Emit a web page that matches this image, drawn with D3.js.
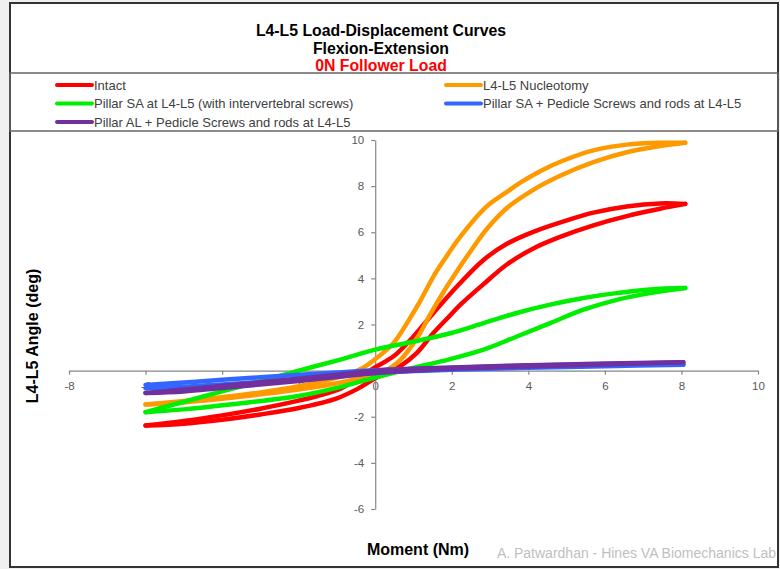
<!DOCTYPE html>
<html>
<head>
<meta charset="utf-8">
<script src="https://cdn.jsdelivr.net/npm/d3@7"></script>
<style>
  html, body { margin: 0; padding: 0; background: #f0f0f0; }
  svg { display: block; }
  text { font-family: "Liberation Sans", Arial, sans-serif; }
</style>
</head>
<body>
<svg id="chart" width="780" height="569"></svg>
<script>
// ---------- DATA ----------
const titleLines = ["L4-L5 Load-Displacement Curves", "Flexion-Extension"];
const subtitle = "0N Follower Load";
const xTitle = "Moment (Nm)";
const yTitle = "L4-L5 Angle (deg)";
const credit = "A. Patwardhan - Hines VA Biomechanics Lab";

const momentTicks = [-8, -6, -4, -2, 0, 2, 4, 6, 8, 10];
const angleTicks = [-6, -4, -2, 0, 2, 4, 6, 8, 10];

const seriesNames = [
  "Intact",
  "L4-L5 Nucleotomy",
  "Pillar SA at L4-L5 (with intervertebral screws)",
  "Pillar SA + Pedicle Screws and rods at L4-L5",
  "Pillar AL + Pedicle Screws and rods at L4-L5"
];
const seriesColors = ["#ff0000", "#ff9900", "#00ee00", "#3366ff", "#7030a0"];

// [moment (Nm), angle (deg)] — loading branch (-6 -> 8) and unloading branch (8 -> -6)
const intactLoading = [[-6,-2.38],[-5,-2.3],[-4,-2.13],[-3,-1.9],[-2,-1.62],[-1,-1.2],[-0.45,-0.78],[0,-0.33],[0.65,0.19],[1.09,0.77],[1.52,1.63],[1.96,2.4],[2.22,2.85],[2.83,3.75],[3.44,4.6],[4.13,5.3],[4.83,5.8],[5.7,6.3],[6.57,6.7],[7.44,7.02],[8.1,7.23]];
const intactUnloading = [[8.1,7.23],[7.44,7.25],[6.57,7.12],[5.7,6.85],[5.09,6.56],[4.13,6.02],[3.44,5.5],[2.83,4.8],[2.22,3.8],[1.52,2.5],[1.0,1.48],[0.48,0.62],[0,0.15],[-0.4,-0.28],[-0.91,-0.78],[-1.5,-1.1],[-2,-1.3],[-3,-1.65],[-4,-1.94],[-5,-2.18],[-6,-2.38]];

const nucleotomyLoading = [[-6,-1.47],[-5,-1.38],[-4,-1.22],[-3,-1.03],[-2,-0.82],[-1,-0.55],[-0.4,-0.32],[0.22,-0.05],[0.65,0.45],[1.09,1.4],[1.44,2.45],[1.78,3.4],[2.13,4.3],[2.5,5.2],[2.92,6.15],[3.44,7.05],[4.13,7.84],[4.83,8.45],[5.7,9.04],[6.57,9.47],[7.44,9.74],[8.1,9.88]];
const nucleotomyUnloading = [[8.1,9.88],[7.44,9.88],[6.57,9.8],[5.7,9.55],[4.9,9.1],[4.31,8.65],[3.79,8.15],[3.44,7.75],[2.9,7.1],[2.22,5.8],[1.78,4.75],[1.52,4.08],[1.17,3.0],[0.83,2.06],[0.48,1.2],[0,0.5],[-0.39,0.06],[-1,-0.3],[-2,-0.68],[-3,-0.95],[-4,-1.15],[-5,-1.32],[-6,-1.47]];

const pillarSALoading = [[-6,-1.8],[-5,-1.68],[-3.8,-1.47],[-2,-1.1],[-1,-0.75],[0,-0.3],[0.83,0.05],[1.96,0.5],[2.83,0.91],[3.7,1.48],[4.57,2.06],[5.44,2.64],[6.31,3.07],[7.18,3.36],[8.1,3.58]];
const pillarSAUnloading = [[8.1,3.58],[7.18,3.52],[6.31,3.36],[5.44,3.15],[4.57,2.86],[3.7,2.5],[2.83,2.06],[1.96,1.62],[0.83,1.2],[0,0.91],[-0.91,0.48],[-2,0.0],[-3,-0.46],[-4,-0.9],[-5,-1.35],[-6,-1.8]];

const pillarSAPedicleLoading = [[-6,-0.76],[-5,-0.7],[-4,-0.6],[-2,-0.38],[-1,-0.25],[0,-0.1],[2,0.04],[4,0.12],[6,0.19],[8.05,0.26]];
const pillarSAPedicleUnloading = [[8.05,0.26],[7,0.28],[6,0.27],[4,0.22],[2,0.12],[0,0.02],[-1,-0.08],[-2,-0.18],[-4,-0.4],[-5,-0.52],[-6,-0.62]];

const pillarALPedicleLoading = [[-6,-0.97],[-5,-0.9],[-4,-0.75],[-2,-0.45],[-1,-0.28],[0,-0.1],[2,0.08],[4,0.18],[6,0.27],[8.05,0.36]];
const pillarALPedicleUnloading = [[8.05,0.36],[6,0.31],[4,0.23],[2,0.14],[0,0.0],[-1,-0.18],[-2,-0.35],[-4,-0.66],[-5,-0.82],[-6,-0.97]];

const seriesBranches = [
  [intactLoading, intactUnloading],
  [nucleotomyLoading, nucleotomyUnloading],
  [pillarSALoading, pillarSAUnloading],
  [pillarSAPedicleLoading, pillarSAPedicleUnloading],
  [pillarALPedicleLoading, pillarALPedicleUnloading]
];

// ---------- DRAW ----------
const svg = d3.select("#chart");
const W = 780, H = 569;

svg.append("rect").attr("x", 0).attr("y", 0).attr("width", W).attr("height", H).attr("fill", "#f0f0f0");
svg.append("rect").attr("x", 10).attr("y", 3).attr("width", 768).attr("height", 564)
  .attr("fill", "#ffffff").attr("stroke", "#333333").attr("stroke-width", 2);

// Titles
const titleG = svg.append("g").attr("text-anchor", "middle");
titleLines.forEach((t, i) => {
  titleG.append("text").attr("x", 381).attr("y", 36 + i * 17.5)
    .attr("font-size", 15.8).attr("font-weight", "bold").attr("fill", "#000").text(t);
});
titleG.append("text").attr("x", 381).attr("y", 71)
  .attr("font-size", 15.8).attr("font-weight", "bold").attr("fill", "#ff0000").text(subtitle);

// Legend box
svg.append("rect").attr("x", 10).attr("y", 73).attr("width", 768).attr("height", 58)
  .attr("fill", "none").attr("stroke", "#666666").attr("stroke-width", 1.5);

const legendPos = [[57, 85], [446, 85], [57, 103.5], [446, 103.5], [57, 122]];
seriesNames.forEach((name, i) => {
  const [lx, ly] = legendPos[i];
  const g = svg.append("g");
  g.append("line").attr("x1", lx).attr("x2", lx + 35).attr("y1", ly).attr("y2", ly)
    .attr("stroke", seriesColors[i]).attr("stroke-width", 4).attr("stroke-linecap", "round");
  g.append("text").attr("x", lx + 37).attr("y", ly).attr("dy", "0.35em")
    .attr("font-size", 13).attr("fill", "#404040").text(name);
});

// Scales
const x = d3.scaleLinear().domain([-8, 10]).range([69, 758]);
const y = d3.scaleLinear().domain([-6, 10]).range([509, 140]);

// Axes
const xAxis = svg.append("g").attr("transform", `translate(0,${y(0)})`)
  .call(d3.axisBottom(x).tickValues(momentTicks).tickSize(4).tickSizeOuter(0).tickPadding(7).tickFormat(d3.format("d")));
const yAxis = svg.append("g").attr("transform", `translate(${x(0)},0)`)
  .call(d3.axisLeft(y).tickValues(angleTicks).tickSize(4).tickSizeOuter(0).tickPadding(7).tickFormat(d3.format("d")));
[xAxis, yAxis].forEach(a => {
  a.select(".domain").attr("stroke", "#868686").attr("stroke-width", 1.2);
  a.selectAll(".tick line").attr("stroke", "#868686").attr("stroke-width", 1.2);
  a.selectAll(".tick text").attr("fill", "#595959").attr("font-size", 11.5)
    .attr("font-family", "'Liberation Sans', Arial, sans-serif");
});
xAxis.selectAll(".tick text").text(d => d < 0 ? "-" + Math.abs(d) : d);
yAxis.selectAll(".tick text").text(d => d < 0 ? "-" + Math.abs(d) : d);

// Curves
const line = d3.line().x(d => x(d[0])).y(d => y(d[1])).curve(d3.curveCatmullRom.alpha(0.5));
const curvesG = svg.append("g");
seriesBranches.forEach((branches, i) => {
  branches.forEach(b => {
    curvesG.append("path").attr("d", line(b)).attr("fill", "none")
      .attr("stroke", seriesColors[i]).attr("stroke-width", 4.5)
      .attr("stroke-linecap", "round").attr("stroke-linejoin", "round");
  });
});

// Axis titles
svg.append("text").attr("x", 418).attr("y", 555).attr("text-anchor", "middle")
  .attr("font-size", 16).attr("font-weight", "bold").attr("fill", "#000").text(xTitle);
svg.append("text").attr("transform", "translate(38,336) rotate(-90)").attr("text-anchor", "middle")
  .attr("font-size", 16).attr("font-weight", "bold").attr("fill", "#000").text(yTitle);

// Credit
svg.append("text").attr("x", 776).attr("y", 558).attr("text-anchor", "end")
  .attr("font-size", 14).attr("fill", "#c0c0c0").text(credit);
</script>
</body>
</html>
